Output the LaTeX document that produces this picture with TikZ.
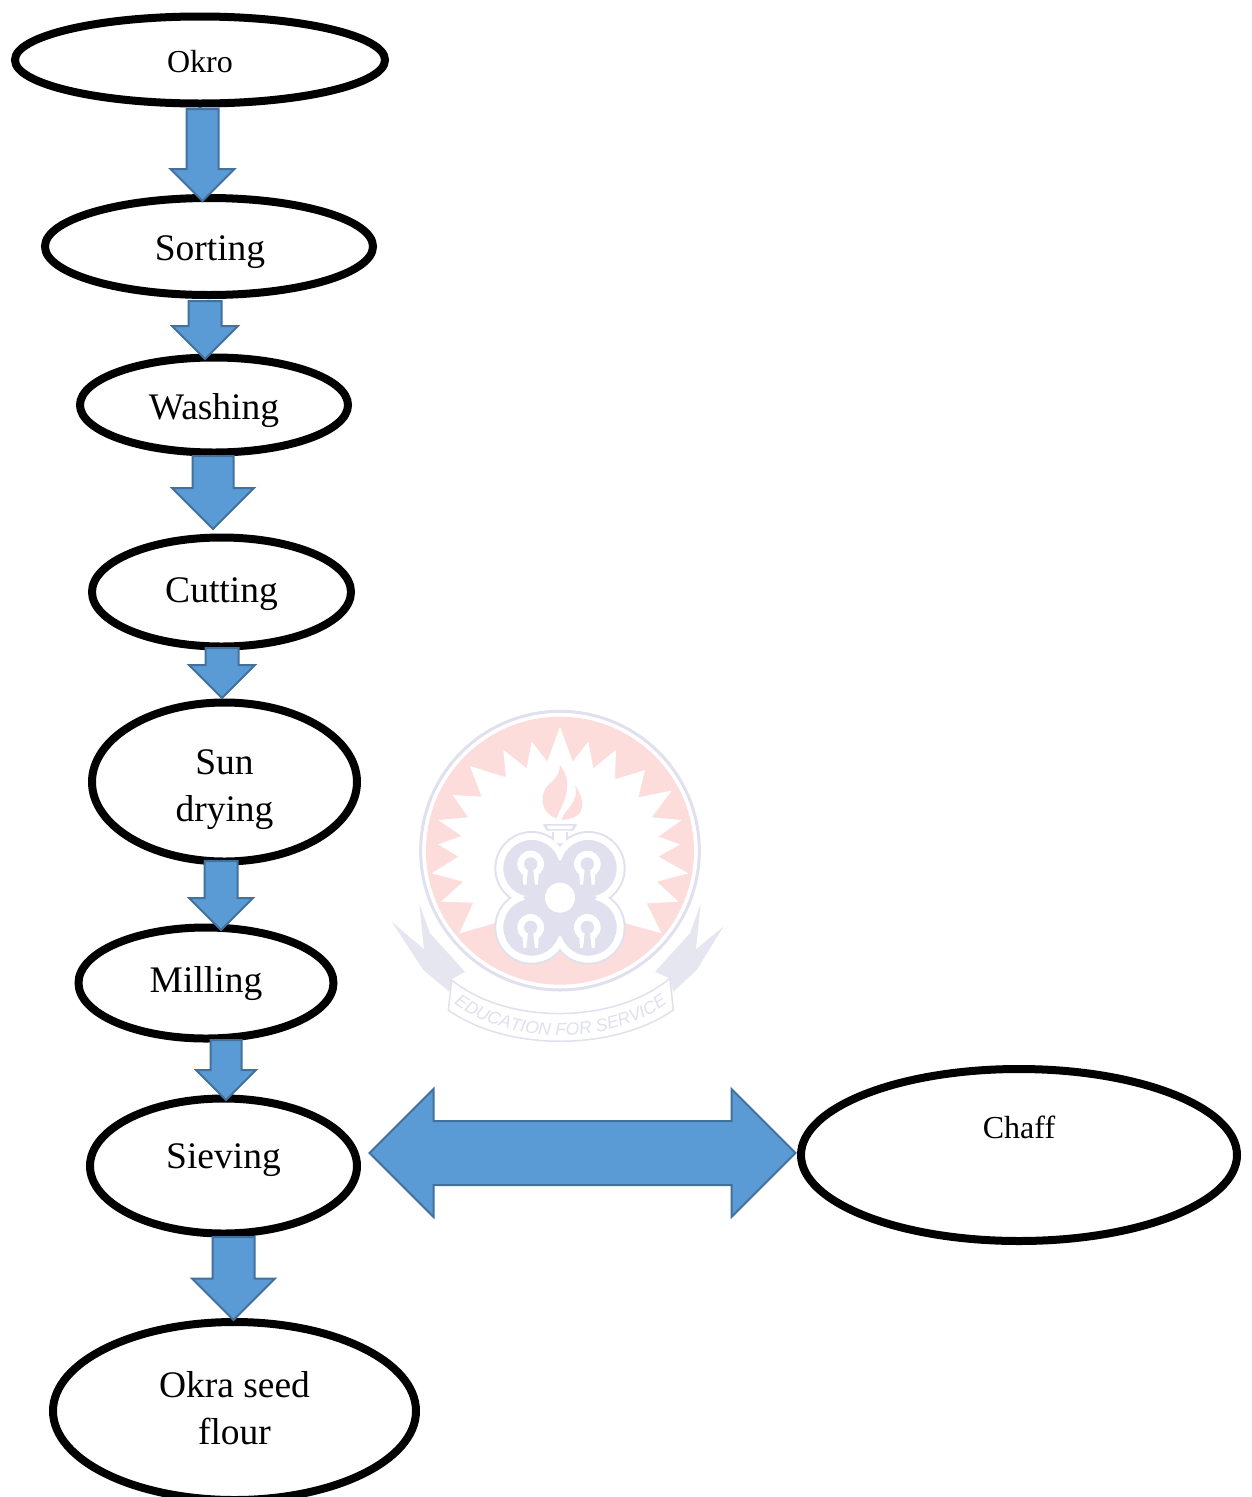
\documentclass[tikz,border=0pt]{standalone}
\usepackage{fontspec}
\setmainfont{Liberation Serif}
\newfontfamily\wmfont{Liberation Sans}
\usetikzlibrary{shapes.geometric,shapes.arrows,decorations.text}
\definecolor{arrowfill}{HTML}{5B9BD5}
\definecolor{arrowline}{HTML}{41719C}
\definecolor{wmpink}{HTML}{FDDCDC}
\definecolor{wmlav}{HTML}{E0E0EE}
\definecolor{wmlavlight}{HTML}{E6E6F1}
\tikzset{
  stage/.style={ellipse,draw=black,fill=white,line width=8pt,inner sep=0pt,outer sep=0pt},
  big/.style={font=\fontsize{37.5}{47}\selectfont,align=center},
  small/.style={font=\fontsize{32}{36}\selectfont,align=center},
  flow/.style={single arrow,single arrow tip angle=90,fill=arrowfill,draw=arrowline,line width=2pt,
    inner sep=0pt,outer sep=0pt,shape border rotate=270,anchor=tip},
  both/.style={double arrow,double arrow tip angle=90,fill=arrowfill,draw=arrowline,line width=2pt,
    inner sep=0pt,outer sep=0pt}
}
\newcommand{\keyhole}[2]{%
  \fill[white] (#1,#2) circle (40);
  \fill[white] (#1-24,#2+30) -- (#1+24,#2+30) -- (#1+22,#2+62) -- (#1-22,#2+62) -- cycle;
  \fill[wmlav] (#1,#2) circle (20);
  \fill[wmlav] (#1-7,#2+10) -- (#1+7,#2+10) -- (#1+13,#2+64) -- (#1-13,#2+64) -- cycle;
}
\begin{document}
\begin{tikzpicture}[x=1pt,y=-1pt]
\clip (0,0) rectangle (1251,1497);
\fill[white] (0,0) rectangle (1251,1497);
% watermark
\begin{scope}[shift={(380,700)},scale=1/3]
  \draw[wmlav,line width=3pt] (540,452) circle (418);
  \fill[wmpink] (540,452) circle (402);
  \fill[white] (540,80)--(578,185)--(625,125)--(640,205)--(708,150)--(705,238)--(795,210)--(775,292)--(875,272)--(815,352)--(905,360)--(835,410)--(900,433)--(835,470)--(925,520)--(830,545)--(895,605)--(800,610)--(845,700)--(755,675)--(640,640)--(440,640)--(325,675)--(238,700)--(280,608)--(183,605)--(250,545)--(155,520)--(235,470)--(175,433)--(245,408)--(175,360)--(265,352)--(218,285)--(305,290)--(270,198)--(378,232)--(370,150)--(440,205)--(455,125)--(502,185)--cycle;
  \fill[wmpink] (540,195) .. controls (590,260) and (540,320) .. (530,355) .. controls (480,340) and (475,280) .. (510,250) .. controls (530,235) and (540,215) .. (540,195) -- cycle;
  \fill[wmpink] (585,255) .. controls (615,300) and (625,355) .. (545,360) .. controls (550,330) and (600,310) .. (585,255) -- cycle;
  \fill[wmlav] (455,505) circle (112) (625,505) circle (112) (455,682) circle (112) (625,682) circle (112);
  \fill[wmlav] (515,395) rectangle (565,420);
  \fill[white] (455,505) circle (106) (625,505) circle (106) (455,682) circle (106) (625,682) circle (106);
  \fill[white] (522,395) rectangle (558,430);
  \fill[wmlav] (488,372)--(592,372)--(580,392)--(500,392)--cycle;
  \fill[white] (500,377)--(580,377)--(574,387)--(506,387)--cycle;
  \fill[wmlav] (455,505) circle (85) (625,505) circle (85) (455,682) circle (85) (625,682) circle (85);
  \fill[wmlav] (540,480)--(650,593)--(540,710)--(430,593)--cycle;
  \fill[white] (540,593) circle (45);
  \keyhole{452}{492}
  \keyhole{622}{492}
  \keyhole{452}{682}
  \keyhole{622}{682}
  % ribbon tails
  \fill[wmlavlight] (35,665)--(132,748)--(118,612)--(150,700)--(255,815)--(215,838)--(208,875)--(130,810)--cycle;
  \fill[wmlavlight] (1030,680)--(948,748)--(962,612)--(930,700)--(825,815)--(868,835)--(880,875)--(950,810)--cycle;
  % banner
  \filldraw[draw=wmlav,fill=white,line width=1.5pt] (215,840) -- (205,930) .. controls (380,1055) and (700,1055) .. (880,930) -- (870,835) .. controls (700,975) and (380,975) .. (215,840) -- cycle;
  \path[decorate,decoration={text along path,text align=center,
    text={|\wmfont\itshape\fontsize{17.5}{18}\selectfont\color{wmlav}|EDUCATION FOR SERVICE}}]
    (215,905) .. controls (390,1040) and (690,1040) .. (870,905);
\end{scope}
% stages
\node[stage,minimum width=370pt,minimum height=87pt,label={[small,yshift=-2pt]center:Okro}] (okro) at (200,60) {};
\node[stage,minimum width=328pt,minimum height=97pt,label={[big,xshift=1pt,yshift=-6pt]center:Sorting}] (sorting) at (209,246.5) {};
\node[stage,minimum width=268pt,minimum height=95pt,label={[big,yshift=-6pt]center:Washing}] (washing) at (214,405) {};
\node[stage,minimum width=259pt,minimum height=109pt,label={[big,yshift=-2pt]center:Cutting}] (cutting) at (221.5,592) {};
\node[stage,minimum width=265pt,minimum height=159pt,label={[big,yshift=-8pt]center:Sun\\drying}] (sun) at (224.5,782) {};
\node[stage,minimum width=255pt,minimum height=111pt,label={[big,yshift=-1pt]center:Milling}] (milling) at (206,983) {};
\node[stage,minimum width=267pt,minimum height=135pt,label={[big,yshift=6pt]center:Sieving}] (sieving) at (223.5,1166) {};
\node[stage,minimum width=363pt,minimum height=178pt,label={[big,yshift=3pt]center:Okra seed\\flour}] (flour) at (234.5,1411) {};
\node[stage,minimum width=436pt,minimum height=172pt,label={[small,yshift=28pt]center:Chaff}] (chaff) at (1019,1155) {};
% arrows
\node[flow,text width=30pt,minimum height=92pt,minimum width=62pt,single arrow head extend=16pt] (a1) at (202.5,201) {};
\node[flow,text width=31pt,minimum height=58pt,minimum width=64pt,single arrow head extend=16.5pt] (a2) at (205,359) {};
\node[flow,text width=39pt,minimum height=73pt,minimum width=80pt,single arrow head extend=20.5pt] (a3) at (213,529) {};
\node[flow,text width=31pt,minimum height=50pt,minimum width=64pt,single arrow head extend=16.5pt] (a4) at (222,698) {};
\node[flow,text width=31pt,minimum height=69pt,minimum width=62pt,single arrow head extend=15.5pt] (a5) at (221,930) {};
\node[flow,text width=29pt,minimum height=60pt,minimum width=58pt,single arrow head extend=14.5pt] (a6) at (226,1100) {};
\node[flow,text width=40pt,minimum height=83pt,minimum width=81pt,single arrow head extend=20.5pt] (a7) at (233.5,1320) {};
\node[both,text height=62pt,minimum height=426pt,minimum width=126pt,double arrow head extend=32pt] (a8) at (582.5,1153) {};
\end{tikzpicture}
\end{document}
